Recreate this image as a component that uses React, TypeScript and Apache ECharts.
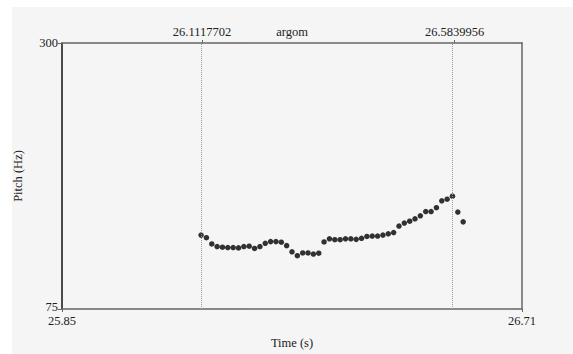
import React, { useEffect, useRef } from "react";
import * as echarts from "echarts";

// Pitch track (Hz) sampled every 10 ms
const times = [
  26.11, 26.12, 26.13, 26.14, 26.15, 26.16, 26.17, 26.18, 26.19, 26.2,
  26.21, 26.22, 26.23, 26.24, 26.25, 26.26, 26.27, 26.28, 26.29, 26.3,
  26.31, 26.32, 26.33, 26.34, 26.35, 26.36, 26.37, 26.38, 26.39, 26.4,
  26.41, 26.42, 26.43, 26.44, 26.45, 26.46, 26.47, 26.48, 26.49, 26.5,
  26.51, 26.52, 26.53, 26.54, 26.55, 26.56, 26.57, 26.58, 26.59, 26.6,
];
const pitch = [
  137.5, 135.3, 130.0, 127.8, 127.3, 127.0, 127.0, 126.7, 127.8, 128.1,
  126.2, 127.8, 130.6, 132.0, 132.0, 131.5, 128.6, 123.4, 120.1, 122.4,
  122.4, 121.5, 122.2, 131.7, 134.4, 133.6, 133.6, 134.4, 134.4, 133.9,
  134.8, 136.4, 136.7, 136.7, 137.5, 138.6, 139.7, 145.2, 147.7, 149.3,
  151.3, 153.8, 157.4, 157.4, 160.7, 166.5, 167.9, 170.4, 157.0, 148.7,
];

const timeRange = [25.85, 26.71];
const pitchRange = [75, 300];
const intervalBounds = [26.1117702, 26.5839956];
const intervalLabel = "argom";

const FONT = "'Liberation Serif', 'Times New Roman', serif";
const TEXT = "#222";

export default function App() {
  const ref = useRef<HTMLDivElement>(null);

  useEffect(() => {
    if (!ref.current) return;
    const chart = echarts.init(ref.current, null, { renderer: "svg" });
    const textStyle = { fontFamily: FONT, fontSize: 12.5, color: TEXT };

    chart.setOption({
      animation: false,
      backgroundColor: "#ffffff",
      graphic: [
        {
          type: "rect",
          left: 12,
          top: 7,
          z: -10,
          shape: { width: 561, height: 347 },
          style: { fill: "#f5f5f5" },
        },
      ],
      grid: { left: 62, top: 43, width: 460, height: 272 },
      xAxis: [
        {
          type: "value",
          min: timeRange[0],
          max: timeRange[1],
          position: "bottom",
          name: "Time (s)",
          nameLocation: "middle",
          nameGap: 27,
          nameMoveOverlap: false,
          nameTextStyle: textStyle,
          splitLine: { show: false },
          axisLine: { lineStyle: { color: "#666", width: 1.5 } },
          axisTick: {
            customValues: timeRange,
            length: 3,
            lineStyle: { color: "#666", width: 1 },
          },
          axisLabel: {
            customValues: timeRange,
            margin: 6,
            lineHeight: 11,
            formatter: (v: number) => v.toFixed(2),
            ...textStyle,
          },
        },
        {
          type: "value",
          min: timeRange[0],
          max: timeRange[1],
          position: "top",
          name: intervalLabel,
          nameLocation: "middle",
          nameGap: 5,
          nameMoveOverlap: false,
          nameTextStyle: { ...textStyle, verticalAlign: "bottom" },
          splitLine: { show: false },
          axisLine: { lineStyle: { color: "#666", width: 1.5 } },
          axisTick: {
            customValues: intervalBounds,
            length: 3,
            lineStyle: { color: "#666", width: 1 },
          },
          axisLabel: {
            customValues: intervalBounds,
            margin: 5,
            formatter: (v: number) => String(v),
            ...textStyle,
          },
        },
      ],
      yAxis: [
        {
          type: "value",
          min: pitchRange[0],
          max: pitchRange[1],
          position: "left",
          name: "Pitch (Hz)",
          nameLocation: "middle",
          nameGap: 38,
          nameRotate: 90,
          nameMoveOverlap: false,
          nameTextStyle: textStyle,
          splitLine: { show: false },
          axisLine: { lineStyle: { color: "#111", width: 1.5 } },
          axisTick: {
            customValues: pitchRange,
            length: 4,
            lineStyle: { color: "#666", width: 1 },
          },
          axisLabel: {
            customValues: pitchRange,
            margin: 4,
            ...textStyle,
            // the lower bound label sits a little above its tick
            formatter: (v: number) => (v === pitchRange[0] ? `{lo|${v}}` : `{hi|${v}}`),
            rich: {
              lo: { ...textStyle, lineHeight: 10, padding: [0, 0, 4, 0] },
              hi: { ...textStyle, lineHeight: 10 },
            },
          },
        },
        {
          type: "value",
          min: pitchRange[0],
          max: pitchRange[1],
          position: "right",
          splitLine: { show: false },
          axisLine: { show: true, lineStyle: { color: "#666", width: 1.5 } },
          axisTick: { show: false },
          axisLabel: { show: false },
        },
      ],
      series: [
        {
          type: "scatter",
          xAxisIndex: 0,
          yAxisIndex: 0,
          symbol: "circle",
          symbolSize: 5.5,
          itemStyle: { color: "#000" },
          data: times.map((t, i) => [t, pitch[i]]),
          markLine: {
            silent: true,
            symbol: "none",
            label: { show: false },
            lineStyle: { type: "dotted", color: "#9a9a9a", width: 1 },
            data: intervalBounds.map((b) => ({ xAxis: b })),
          },
        },
      ],
    });

    return () => chart.dispose();
  }, []);

  return (
    <div
      ref={ref}
      style={{ position: "fixed", left: 0, top: 0, width: 573, height: 354 }}
    />
  );
}
